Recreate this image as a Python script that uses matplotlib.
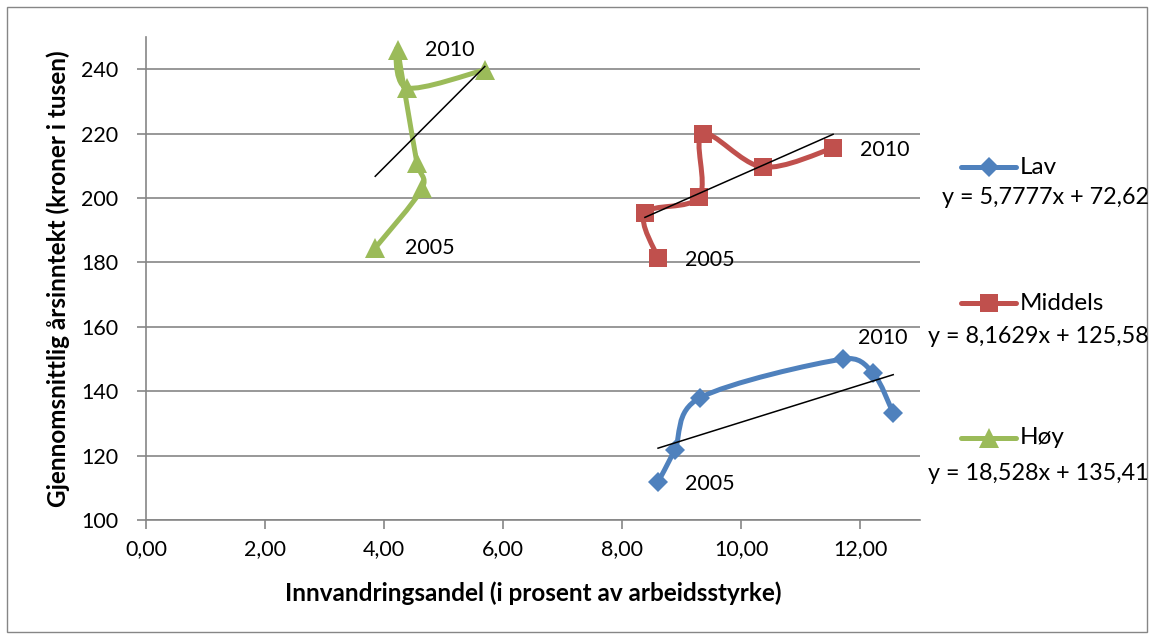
import matplotlib
matplotlib.use('Agg')
import matplotlib.pyplot as plt
import numpy as np
from matplotlib.path import Path
from matplotlib.patches import PathPatch, Rectangle
from matplotlib.lines import Line2D

plt.rcParams['font.family'] = ['Lato', 'DejaVu Sans']

# data, 2005 -> 2010
lav_x = [8.60, 8.88, 9.30, 11.71, 12.21, 12.55]
lav_y = [111.8, 121.7, 137.9, 150.0, 145.7, 133.2]
mid_x = [8.60, 8.38, 9.29, 9.35, 10.36, 11.54]
mid_y = [181.4, 195.3, 200.3, 219.9, 209.6, 215.5]
hoy_x = [3.85, 4.64, 4.55, 4.23, 4.38, 5.69]
hoy_y = [184.5, 203.1, 210.9, 246.0, 234.2, 239.8]

# linear trendlines (slope, intercept)
lav_trend = [5.7777, 72.62]
mid_trend = [8.1629, 125.58]
hoy_trend = [18.528, 135.41]

names = ['Lav', 'Middels', 'Høy']
eq_labels = ['y = 5,7777x + 72,62', 'y = 8,1629x + 125,58', 'y = 18,528x + 135,41']
colors = ['#4F81BD', '#C0504D', '#9BBB59']
markers = ['D', 's', '^']
msizes = [10, 13, 14]

x_ticks = [0, 2, 4, 6, 8, 10, 12]
y_ticks = [100, 120, 140, 160, 180, 200, 220, 240]

W, H = 1155, 639
fig = plt.figure(figsize=(W / 100, H / 100), dpi=100)
ax = fig.add_axes([146 / W, 1 - 520 / H, 774 / W, 483 / H])
ax.set_xlim(0, 13)
ax.set_ylim(100, 250)

grey = '#868686'


def smooth_path(xs, ys):
    # Excel style bezier smoothing, done in screen space
    pts = ax.transData.transform(np.column_stack([xs, ys]))
    n = len(pts)
    verts = [pts[0]]
    codes = [Path.MOVETO]
    for i in range(n - 1):
        p0 = pts[max(i - 1, 0)]
        p1 = pts[i]
        p2 = pts[i + 1]
        p3 = pts[min(i + 2, n - 1)]
        d12 = np.hypot(*(p2 - p1))
        a = p2 - p0
        la = np.hypot(*a)
        if la > 0:
            a = a / la * min(la / 6, d12 / 2)
        b = p3 - p1
        lb = np.hypot(*b)
        if lb > 0:
            b = b / lb * min(lb / 6, d12 / 2)
        verts += [p1 + a, p2 - b, p2]
        codes += [Path.CURVE4] * 3
    verts = ax.transData.inverted().transform(np.array(verts))
    return Path(verts, codes)


series = [(lav_x, lav_y, lav_trend), (mid_x, mid_y, mid_trend), (hoy_x, hoy_y, hoy_trend)]
for (xs, ys, tr), c, m, ms in zip(series, colors, markers, msizes):
    ax.add_patch(PathPatch(smooth_path(xs, ys), facecolor='none', edgecolor=c,
                           lw=3.6, capstyle='round', joinstyle='round', zorder=3))
    ax.plot(xs, ys, linestyle='', marker=m, markersize=ms, color=c,
            markeredgewidth=0, zorder=4)
    tx = np.array([min(xs), max(xs)])
    ax.plot(tx, tr[0] * tx + tr[1], color='black', lw=1.1, zorder=5)

# year labels
lab_kw = dict(fontsize=15.5, ha='center', va='center', zorder=6)
ax.text(5.11, 246.0, '2010', **lab_kw)
ax.text(4.77, 184.5, '2005', **lab_kw)
ax.text(9.47, 180.7, '2005', **lab_kw)
ax.text(12.40, 214.9, '2010', **lab_kw)
ax.text(12.38, 156.5, '2010', **lab_kw)
ax.text(9.47, 111.2, '2005', **lab_kw)

ax.set_xticks(x_ticks)
ax.set_xticklabels([f'{v:.2f}'.replace('.', ',') for v in x_ticks])
ax.set_yticks(y_ticks)
ax.grid(axis='y', color=grey, lw=1.2)
ax.set_axisbelow(True)
for s in ['top', 'right']:
    ax.spines[s].set_visible(False)
for s in ['left', 'bottom']:
    ax.spines[s].set_color(grey)
    ax.spines[s].set_linewidth(1.2)
ax.tick_params(axis='both', direction='out', length=6.5, width=1.2, color=grey,
               labelsize=15.5)
ax.tick_params(axis='x', pad=7)
ax.tick_params(axis='y', pad=13.5)

ax.set_xlabel('Innvandringsandel (i prosent av arbeidsstyrke)', fontsize=17.5,
              fontweight='bold')
ax.xaxis.set_label_coords(0.5, -0.128)
ax.set_ylabel('Gjennomsnittlig årsinntekt (kroner i tusen)', fontsize=17.5,
              fontweight='bold')
ax.yaxis.set_label_coords(-0.098, 0.5)

# legend with trendline equations underneath
leg_y = [167, 303, 438]
eq_y = [197, 337, 473]
for name, eq, c, m, ms, ly, ey in zip(names, eq_labels, colors, markers, msizes, leg_y, eq_y):
    yf = 1 - ly / H
    fig.add_artist(Line2D([961 / W, 988.5 / W, 1016 / W], [yf, yf, yf], color=c, lw=3.6,
                          marker=m, markersize=ms, markevery=[1], markeredgewidth=0,
                          transform=fig.transFigure, solid_capstyle='round'))
    fig.text(1020 / W, yf, name, fontsize=17.5, ha='left', va='center')
    fig.text(1149 / W, 1 - ey / H, eq, fontsize=16.8, ha='right', va='center')

fig.add_artist(Rectangle((7 / W, 1 - 632 / H), 1140 / W, 625 / H, fill=False,
                         edgecolor=grey, lw=1, transform=fig.transFigure))

fig.savefig('out.png', dpi=100)
